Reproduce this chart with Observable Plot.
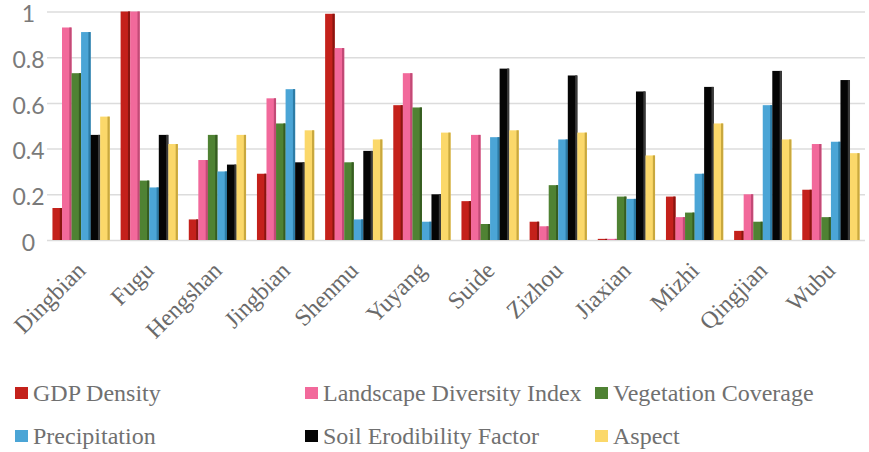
<!DOCTYPE html>
<html>
<head>
<meta charset="utf-8">
<script src="https://cdn.jsdelivr.net/npm/d3@7"></script>
<script src="https://cdn.jsdelivr.net/npm/@observablehq/plot@0.6"></script>
<style>
  body { margin: 0; background: #fff; width: 869px; height: 452px; overflow: hidden; }
  #legend { position: relative; height: 92px; font-family: "Liberation Serif", "Times New Roman", serif; font-size: 24px; color: #707070; }
  .item { position: absolute; display: flex; align-items: center; white-space: nowrap; height: 30px; }
  .sw { width: 13px; height: 12px; margin-right: 5px; }
</style>
</head>
<body>
<div id="chart"></div>
<div id="legend"></div>
<script>
const counties = ["Dingbian","Fugu","Hengshan","Jingbian","Shenmu","Yuyang","Suide","Zizhou","Jiaxian","Mizhi","Qingjian","Wubu"];
const seriesNames = ["GDP Density","Landscape Diversity Index","Vegetation Coverage","Precipitation","Soil Erodibility Factor","Aspect"];
const gdpDensity     = [0.14, 1.00, 0.09, 0.29, 0.99, 0.59, 0.17, 0.08, 0.005, 0.19, 0.04, 0.22];
const landscapeDiv   = [0.93, 1.00, 0.35, 0.62, 0.84, 0.73, 0.46, 0.06, 0.005, 0.10, 0.20, 0.42];
const vegetation     = [0.73, 0.26, 0.46, 0.51, 0.34, 0.58, 0.07, 0.24, 0.19, 0.12, 0.08, 0.10];
const precipitation  = [0.91, 0.23, 0.30, 0.66, 0.09, 0.08, 0.45, 0.44, 0.18, 0.29, 0.59, 0.43];
const soilErod       = [0.46, 0.46, 0.33, 0.34, 0.39, 0.20, 0.75, 0.72, 0.65, 0.67, 0.74, 0.70];
const aspect         = [0.54, 0.42, 0.46, 0.48, 0.44, 0.47, 0.48, 0.47, 0.37, 0.51, 0.44, 0.38];
const yTicks = [0, 0.2, 0.4, 0.6, 0.8, 1];

const colors = ["#c4211b", "#f2699b", "#4f8233", "#4ba5d6", "#050505", "#fbd86a"];
const sideColors = ["#8a1510", "#c24a76", "#365d21", "#2d7ca6", "#3a3a3a", "#c9a83e"];

const allSeries = [gdpDensity, landscapeDiv, vegetation, precipitation, soilErod, aspect];

const serif = "'Liberation Serif', 'Times New Roman', serif";
const W = 869, H = 360, mL = 47, mR = 4, mT = 11.5, mB = 120;
const padIn = 0.16, padOut = 0.08;
const range = W - mL - mR;
const step = range / (counties.length - padIn + 2 * padOut);
const bw = step * (1 - padIn);
const slot = bw / seriesNames.length;

const marks = [
  Plot.gridY(yTicks, {stroke: "#dcdcdc", strokeOpacity: 1, strokeWidth: 1.5})
];
allSeries.forEach((vals, i) => {
  const data = counties.map((c, j) => ({county: c, value: vals[j], series: seriesNames[i]}));
  marks.push(Plot.barY(data, {
    x: "county", y: "value", fill: colors[i],
    insetLeft: i * slot, insetRight: (seriesNames.length - 1 - i) * slot
  }));
  marks.push(Plot.barY(data, {
    x: "county", y: "value", fill: sideColors[i],
    insetLeft: i * slot + slot - 2.2, insetRight: (seriesNames.length - 1 - i) * slot
  }));
});
marks.push(Plot.axisY(yTicks, {
  tickSize: 0, tickPadding: 19, textAnchor: "middle", fontSize: 23, fontFamily: "Lato, 'Open Sans', sans-serif",
  fill: "#7a7a7a", label: null, tickFormat: d => String(d), dy: 3
}));
marks.push(Plot.axisX({
  tickSize: 0, tickPadding: 26, tickRotate: -45, fontSize: 24,
  fontFamily: serif, fill: "#6a6a6a", label: null
}));

const chart = Plot.plot({
  width: W, height: H,
  marginLeft: mL, marginRight: mR, marginTop: mT, marginBottom: mB,
  style: {background: "#fff", overflow: "visible"},
  x: {domain: counties, paddingInner: padIn, paddingOuter: padOut, round: false},
  y: {domain: [0, 1]},
  marks
});
document.getElementById("chart").appendChild(chart);

const legend = document.getElementById("legend");
const pos = [[15, 393], [305, 393], [595, 393], [15, 436], [305, 436], [595, 436]];
seriesNames.forEach((name, i) => {
  const it = document.createElement("div");
  it.className = "item";
  it.style.left = pos[i][0] + "px";
  it.style.top = (pos[i][1] - H - 15) + "px";
  const sw = document.createElement("span");
  sw.className = "sw";
  sw.style.background = colors[i];
  const tx = document.createElement("span");
  tx.textContent = name;
  it.appendChild(sw); it.appendChild(tx);
  legend.appendChild(it);
});
</script>
</body>
</html>
